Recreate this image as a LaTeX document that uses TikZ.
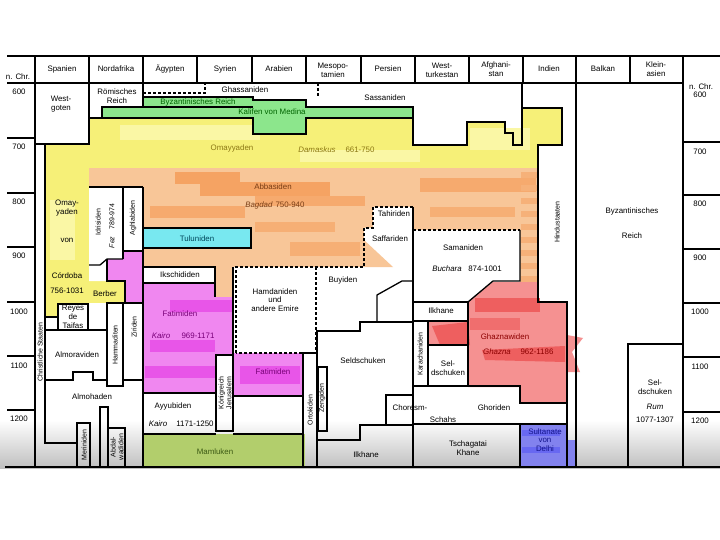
\documentclass[tikz,border=0pt]{standalone}
\usepackage{fontspec}
\setmainfont{Liberation Sans}
\definecolor{yellowC}{RGB}{246,240,120}
\definecolor{yellowL}{RGB}{250,247,165}
\definecolor{greenC}{RGB}{140,230,140}
\definecolor{orangeC}{RGB}{248,198,152}
\definecolor{orangeD}{RGB}{244,152,82}
\definecolor{cyanC}{RGB}{120,232,240}
\definecolor{magC}{RGB}{240,135,240}
\definecolor{magD}{RGB}{232,85,232}
\definecolor{redC}{RGB}{245,145,145}
\definecolor{redD}{RGB}{238,95,95}
\definecolor{blueC}{RGB}{130,130,238}
\definecolor{oliveC}{RGB}{178,206,108}
\definecolor{oliveT}{RGB}{140,120,20}
\definecolor{abbT}{RGB}{120,60,20}
\definecolor{greenT}{RGB}{0,100,0}
\definecolor{tealT}{RGB}{0,70,90}
\definecolor{magT}{RGB}{120,0,120}
\definecolor{redT}{RGB}{140,0,0}
\definecolor{blueT}{RGB}{20,20,140}
\definecolor{mamT}{RGB}{60,90,20}
\tikzset{
  lab/.style={font=\fontsize{7.9}{8.8}\selectfont, inner sep=0pt, align=center},
  rot/.style={lab, font=\fontsize{7}{7.6}\selectfont, rotate=90},
  ln/.style={line width=1.3pt, black, line join=miter},
  dsh/.style={line width=1.3pt, black, dash pattern=on 3pt off 2pt},
}
\begin{document}
\begin{tikzpicture}[x=1pt,y=-1pt]
\useasboundingbox (0,0) rectangle (720,540);
\fill[white] (0,0) rectangle (720,540);
\shade[top color=white, bottom color=black!25] (0,420) rectangle (720,468);

% ---------- coloured areas ----------
% Omayyaden
\fill[yellowC] (89,118) -- (413,118) -- (413,145) -- (467,145) -- (467,122) -- (505,122) -- (505,133) -- (513,133) -- (513,145) -- (522,145) -- (522,108) -- (562,108) -- (562,145) -- (538,145) -- (538,168) -- (89,168) -- cycle;
\fill[yellowC] (45,144) rectangle (89,317);
\fill[yellowC] (89,281) rectangle (125,303);
\fill[yellowL] (120,125) rectangle (260,140);
\fill[yellowL] (300,150) rectangle (420,162);
\fill[yellowL] (470,128) rectangle (530,150);
\fill[yellowL] (50,200) rectangle (75,260);
% green
\fill[greenC] (102,107) -- (143,107) -- (143,97) -- (253,97) -- (253,100) -- (306,100) -- (306,107) -- (413,107) -- (413,118) -- (306,118) -- (306,134) -- (253,134) -- (253,118) -- (102,118) -- cycle;
% Abbasiden
\fill[orangeC] (89,168) rectangle (538,267);
\fill[orangeC] (520,267) rectangle (538,300);
\fill[orangeC] (215,267) rectangle (233,297);
\fill[orangeD!75!orangeC] (175,172) rectangle (240,184);
\fill[orangeD!75!orangeC] (200,182) rectangle (330,196);
\fill[orangeD!60!orangeC] (255,196) rectangle (365,206);
\fill[orangeD!60!orangeC] (150,206) rectangle (245,218);
\fill[orangeD!50!orangeC] (255,222) rectangle (335,232);
\fill[orangeD!50!orangeC] (290,242) rectangle (360,256);
\fill[orangeD!60!orangeC] (420,178) rectangle (536,192);
\fill[orangeD!50!orangeC] (430,207) rectangle (515,217);
\foreach \k in {0,...,9}{\fill[orangeD!45!orangeC] (521,{172+\k*13}) rectangle (538,{178+\k*13});}
% Fatimiden
\fill[magC] (107,259) -- (123,259) -- (123,251) -- (143,251) -- (143,283) -- (215,283) -- (215,297) -- (233,297) -- (233,355) -- (216,355) -- (216,393) -- (143,393) -- (143,303) -- (125,303) -- (125,281) -- (107,281) -- cycle;
\fill[magC] (233,353) rectangle (303,396);
\fill[magD] (170,300) rectangle (232,312);
\fill[magD] (150,340) rectangle (215,352);
\fill[magD] (145,366) rectangle (215,378);
\fill[magD] (240,366) rectangle (300,384);
% Tuluniden
\fill[cyanC] (143,228) rectangle (251,248);
% Ghaznawiden
\fill[redC] (468,302) -- (493,282) -- (538,282) -- (538,302) -- (567,302) -- (567,335) -- (583,338) -- (572,352) -- (580,372) -- (567,372) -- (567,403) -- (520,403) -- (520,387) -- (468,387) -- (468,345) -- (428,345) -- (428,322) -- (468,322) -- cycle;
\fill[redD] (432,326) -- (468,322) -- (470,345) -- (440,345) -- cycle;
\fill[redD] (475,298) rectangle (540,312);
\fill[redD] (482,350) -- (565,346) -- (565,362) -- (485,360) -- cycle;
\fill[redD!70!redC] (470,318) rectangle (520,330);
% Delhi
\fill[blueC] (520,424) rectangle (567,467);
\fill[blueC!80!blue] (522,430) rectangle (560,436);
\fill[blueC!80!blue] (522,447) rectangle (560,453);
\fill[blueC] (567,440) rectangle (575,467);
% Mamluken
\fill[oliveC] (143,434) rectangle (305,467);

% ---------- white boxes ----------
\fill[white] (35,83) rectangle (89,144);
\fill[white] (89,187) -- (123,187) -- (123,259) -- (107,259) -- (107,281) -- (89,281) -- cycle;
\fill[white] (123,187) rectangle (143,251);
\fill[white] (143,267) rectangle (215,283);
\fill[white] (373,207) -- (413,207) -- (413,267) -- (364,267) -- (364,228) -- (373,228) -- cycle;
\fill[orangeC] (364,240) -- (393,267) -- (364,267) -- cycle;
\fill[white] (413,230) rectangle (520,281);
\fill[white] (58,304) rectangle (88,330);

% ---------- lines ----------
\draw[ln] (7,56) -- (720,56) (7,83) -- (683,83);
\foreach \x in {35,89,143,197,252,306,361,415,469,523,576,630,683}{\draw[ln] (\x,56) -- (\x,83);}
\draw[ln] (35,83) -- (35,467) (683,56) -- (683,467) (576,83) -- (576,467) (5,467) -- (720,467);
\foreach \y in {138,193,247,302,356,410}{\draw[ln] (7,\y) -- (35,\y);}
\foreach \y in {142,195,249,303,357,412}{\draw[ln] (683,\y) -- (720,\y);}
% Spain / North Africa
\draw[ln] (35,144) -- (89,144) -- (89,83);
\draw[ln] (89,118) -- (102,118) -- (102,107) -- (143,107) -- (143,83);
\draw[ln] (45,144) -- (45,443) -- (77,443);
\draw[ln] (45,317) -- (58,317);
\draw[ln] (58,304) rectangle (88,330);
\draw[ln] (45,330) -- (107,330);
\draw[ln] (107,303) rectangle (123,386);
\draw[ln] (123,303) -- (143,303);
\draw[ln] (45,380) -- (73,380) -- (73,372) -- (93,372) -- (93,380) -- (107,380);
\draw[ln] (123,380) -- (143,380);
\draw[ln] (77,467) -- (77,423) -- (90,423) -- (90,467);
\draw[ln] (100,467) -- (100,407) -- (108,407) -- (108,467);
\draw[ln] (108,428) -- (125,428) -- (125,467);
\draw[ln] (89,187) -- (143,187);
\draw[ln] (123,187) -- (123,259);
\draw[ln] (89,265) -- (100,265) -- (107,259) -- (123,259);
\draw[ln] (123,251) -- (143,251);
\draw[ln] (107,259) -- (107,281) -- (125,281) -- (125,303);
\draw[ln] (143,187) -- (143,467);
% green outline
\draw[ln] (102,107) -- (143,107) -- (143,97) -- (253,97) -- (253,100) -- (306,100) -- (306,107) -- (413,107) -- (413,118) -- (306,118) -- (306,134) -- (253,134) -- (253,118) -- (102,118);
\draw[ln] (143,107) -- (253,107);
% yellow limits
\draw[ln] (413,118) -- (413,145) -- (467,145) -- (467,122) -- (505,122) -- (505,133) -- (513,133) -- (513,145) -- (522,145) -- (522,83);
\draw[ln] (522,108) -- (562,108) -- (562,145) -- (538,145) -- (538,302) -- (567,302) -- (567,467);
% Egypt / Syria
\draw[ln] (143,228) rectangle (251,248);
\draw[ln] (143,267) rectangle (215,283);
\draw[ln] (215,283) -- (215,297);
\draw[ln] (233,267) -- (233,355);
\draw[ln] (216,355) rectangle (233,431);
\draw[ln] (143,393) -- (216,393);
\draw[ln] (233,396) -- (303,396);
\draw[ln] (143,434) -- (216,434) (233,434) -- (303,434);
\draw[ln] (303,467) -- (303,353) -- (317,353) -- (317,467);
\draw[ln] (318,367) rectangle (327,431);
% Mesopotamia / Persia
\draw[ln] (317,353) -- (317,331) -- (360,331) -- (360,322) -- (413,322);
\draw[ln] (377,322) -- (377,295) -- (402,281) -- (413,281);
\draw[ln] (413,207) -- (413,467);
\draw[ln] (520,230) -- (520,281) -- (493,281) -- (468,302);
\draw[ln] (413,302) rectangle (468,321);
\draw[ln] (413,321) rectangle (428,386);
\draw[ln] (428,345) -- (468,345);
\draw[ln] (468,321) -- (468,386);
\draw[ln] (413,386) -- (520,386) -- (520,403) -- (567,403);
\draw[ln] (386,424) -- (386,395) -- (413,395);
\draw[ln] (413,424) -- (567,424);
\draw[ln] (520,424) -- (520,467);
\draw[ln] (317,440) -- (360,440) -- (360,425) -- (413,425);
\draw[ln] (628,467) -- (628,344) -- (683,344);
% dashed
\draw[dsh] (143,93) -- (205,93) -- (205,83);
\draw[dsh] (318,83) -- (318,97);
\draw[dsh] (236,353) -- (236,267) -- (364,267) -- (364,228) -- (373,228) -- (373,207) -- (413,207);
\draw[dsh] (316,267) -- (316,353) -- (236,353);
\draw[dsh] (413,230) -- (520,230);

% ---------- texts ----------
\node[lab] (hnl) at (18,77) {n. Chr.};
\node[lab] (hspa) at (62,69) {Spanien};
\node[lab] (hnaf) at (116,69) {Nordafrika};
\node[lab] (hegy) at (170,69) {Ägypten};
\node[lab] (hsyr) at (225,69) {Syrien};
\node[lab] (hara) at (279,69) {Arabien};
\node[lab] (hmes) at (333,70) {Mesopo-\\tamien};
\node[lab] (hper) at (388,69) {Persien};
\node[lab] (hwtu) at (442,70) {West-\\turkestan};
\node[lab] (hafg) at (496,69) {Afghani-\\stan};
\node[lab] (hind) at (549,69) {Indien};
\node[lab] (hbal) at (603,69) {Balkan};
\node[lab] (hkla) at (656,69) {Klein-\\asien};
\node[lab] (hnr) at (701,87) {n. Chr.};
\foreach \y/\t [count=\i] in {92/600,147/700,202/800,256/900,312/1000,366/1100,419/1200}{\node[lab] (yl\i) at (19,\y) {\t};}
\foreach \y/\t [count=\i] in {95/600,152/700,204/800,258/900,312/1000,367/1100,421/1200}{\node[lab] (yr\i) at (700,\y) {\t};}

\node[lab] (westgoten) at (61,104) {West-\\goten};
\node[lab] (roem) at (117,96) {Römisches\\Reich};
\node[lab] (ghass) at (245,90) {Ghassaniden};
\node[lab, text=greenT] (byz1) at (198,102) {Byzantinisches Reich};
\node[lab, text=greenT] (kalif) at (272,112) {Kalifen von Medina};
\node[lab] (sass) at (385,98) {Sassaniden};
\node[lab, text=oliveT] (omay) at (232,148) {Omayyaden};
\node[lab, text=oliveT] (damas) at (317,150) {\textit{Damaskus}};
\node[lab, text=oliveT] (omayd) at (360,150) {661-750};
\node[lab, text=abbT] (abb) at (273,187) {Abbasiden};
\node[lab, text=abbT] (bagd) at (259,205) {\textit{Bagdad}};
\node[lab, text=abbT] (bagdd) at (290,205) {750-940};
\node[lab] (tahir) at (394,214) {Tahiriden};
\node[lab] (saffar) at (390,239) {Saffariden};
\node[lab] (saman) at (463,248) {Samaniden};
\node[lab] (buch) at (447,269) {\textit{Buchara}};
\node[lab] (buchd) at (485,269) {874-1001};
\node[lab] (buyid) at (343,280) {Buyiden};
\node[lab] (hamd) at (275,300) {Hamdaniden\\und\\andere Emire};
\node[lab, text=tealT] (tulun) at (197,239) {Tuluniden};
\node[lab] (ikschid) at (180,275) {Ikschididen};
\node[rot] (idris) at (98,222) {Idrisiden};
\node[rot] (fez) at (112,226) {\textit{Fez}\quad 789-974};
\node[rot] (aghlab) at (133,218) {Aghlabiden};
\node[lab] (omayc1) at (67,208) {Omay-\\yaden};
\node[lab] (omayc2) at (67,240) {von};
\node[lab] (omayc3) at (67,276) {Córdoba};
\node[lab] (omayc4) at (67,291) {756-1031};
\node[lab] (berber) at (105,294) {Berber};
\node[lab] (reyes) at (73,317) {Reyes\\de\\Taifas};
\node[rot] (christ) at (40,352) {Christliche Staaten};
\node[lab] (almor) at (77,355) {Almoraviden};
\node[rot] (hamma) at (115,345) {Hammaditen};
\node[rot] (zirid) at (134,327) {Ziriden};
\node[lab] (almoh) at (92,397) {Almohaden};
\node[rot] (merin) at (84,445) {Meriniden};
\node[rot] (abdal) at (117,447) {Abdal-\\wadiden};
\node[lab, text=magT] (fatim1) at (180,314) {Fatimiden};
\node[lab, text=magT] (kairo1) at (161,336) {\textit{Kairo}};
\node[lab, text=magT] (kairo1d) at (198,336) {969-1171};
\node[lab, text=magT] (fatim2) at (273,372) {Fatimiden};
\node[rot] (jerus) at (225,393) {Königreich\\Jerusalem};
\node[lab] (ayyub) at (173,406) {Ayyubiden};
\node[lab] (kairo2) at (158,424) {\textit{Kairo}};
\node[lab] (kairo2d) at (195,424) {1171-1250};
\node[lab, text=mamT] (maml) at (215,452) {Mamluken};
\node[rot] (ortok) at (310,410) {Ortokiden};
\node[rot] (zeng) at (322,398) {Zengiden};
\node[lab] (seld1) at (363,361) {Seldschuken};
\node[lab] (ilkh1) at (441,311) {Ilkhane};
\node[rot] (karach) at (420,354) {Karachaniden};
\node[lab] (seld2) at (448,368) {Sel-\\dschuken};
\node[lab, text=redT] (ghazn) at (505,337) {Ghaznawiden};
\node[lab, text=redT] (ghazna) at (497,352) {\textit{Ghazna}};
\node[lab, text=redT] (ghaznad) at (537,352) {962-1186};
\node[lab] (chor1) at (410,408) {Choresm-};
\node[lab] (chor2) at (443,420) {Schahs};
\node[lab] (ghor) at (494,408) {Ghoriden};
\node[lab] (ilkh2) at (366,455) {Ilkhane};
\node[lab] (tschag) at (468,448) {Tschagatai\\Khane};
\node[lab, text=blueT] (delhi) at (545,440) {Sultanate\\von\\Delhi};
\node[rot] (hindu) at (557,222) {Hindustaaten};
\node[lab] (byz2) at (632,211) {Byzantinisches};
\node[lab] (byz3) at (632,236) {Reich};
\node[lab] (seldr) at (655,387) {Sel-\\dschuken};
\node[lab] (rum) at (655,407) {\textit{Rum}};
\node[lab] (rumd) at (655,420) {1077-1307};
\end{tikzpicture}
\end{document}
